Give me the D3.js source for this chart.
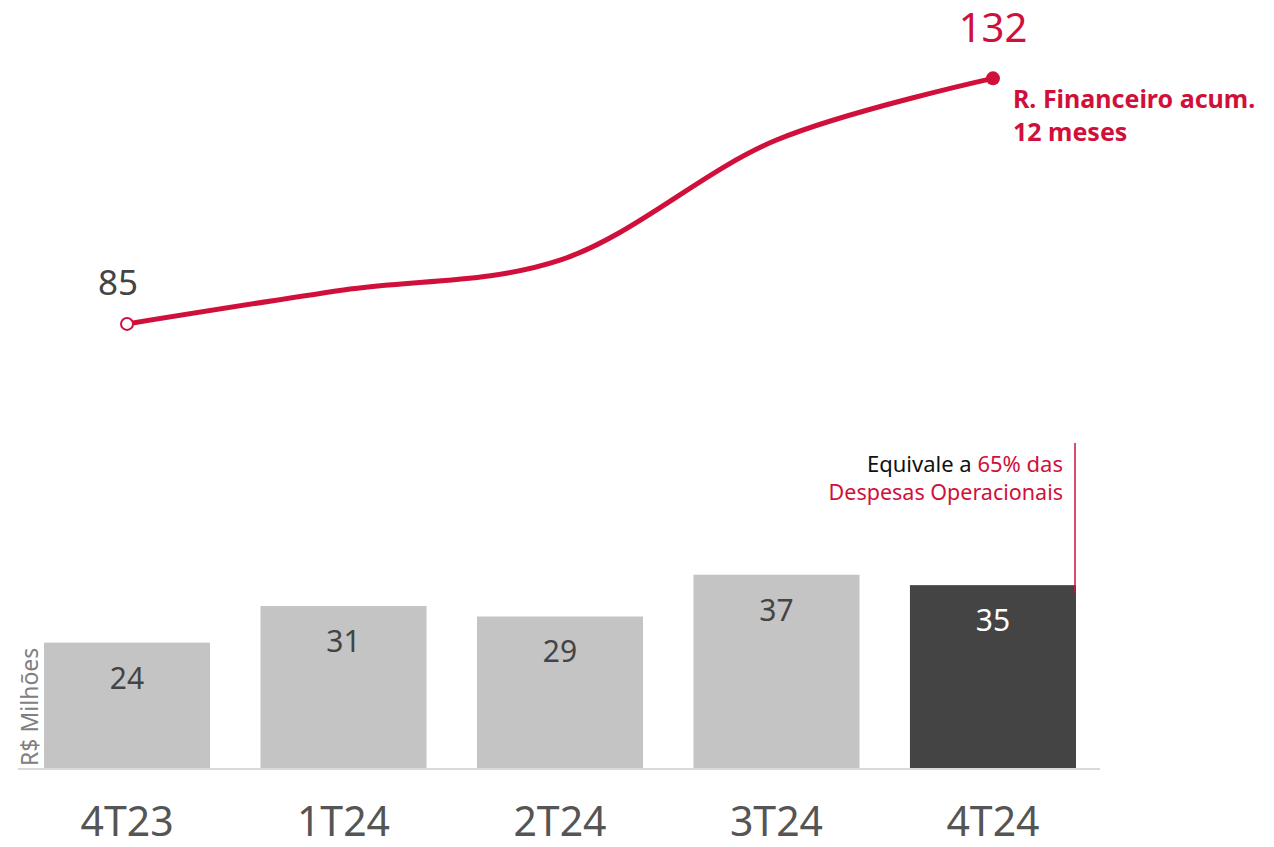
<!DOCTYPE html>
<html>
<head>
<meta charset="utf-8">
<script src="https://cdn.jsdelivr.net/npm/d3@7"></script>
<style>
  body { margin: 0; background: #fff; }
  text { font-family: "Noto Sans", "Open Sans", sans-serif; }
</style>
</head>
<body>
<div id="chart"></div>
<script>
//
// data
//
var quarters = ['4T23', '1T24', '2T24', '3T24', '4T24']
var quarterly = [24, 31, 29, 37, 35]
var accum12m = [85, 91.5, 97.2, 120.2, 132]
var lineName = ['R. Financeiro acum.', '12 meses']
var unitLabel = 'R$ Milhões'

var red = '#d0103a'
var W = 1274, H = 847

var svg = d3.select('#chart').append('svg')
  .attr('width', W)
  .attr('height', H)

// shared scales
var x = d3.scaleBand()
  .domain(quarters)
  .range([44, 1076])
  .paddingInner(0.233)
  .paddingOuter(0)

var y = d3.scaleLinear()
  .domain([0, 147])
  .range([768, 0])

var cx = function(i) { return x(quarters[i]) + x.bandwidth() / 2 }

// bars
svg.selectAll('rect.bar')
  .data(quarterly)
  .enter().append('rect')
  .attr('class', 'bar')
  .attr('x', function(d, i) { return x(quarters[i]) })
  .attr('y', function(d) { return y(d) })
  .attr('width', x.bandwidth())
  .attr('height', function(d) { return y(0) - y(d) })
  .attr('fill', function(d, i) { return i == quarterly.length - 1 ? '#444444' : '#c4c4c4' })

svg.selectAll('text.val')
  .data(quarterly)
  .enter().append('text')
  .attr('x', function(d, i) { return cx(i) })
  .attr('y', function(d) { return y(d) + 46 })
  .attr('text-anchor', 'middle')
  .style('font-size', '30px')
  .attr('fill', function(d, i) { return i == quarterly.length - 1 ? '#ffffff' : '#444444' })
  .text(function(d) { return d })

// baseline
svg.append('line')
  .attr('x1', 18).attr('x2', 1100)
  .attr('y1', y(0) + 1).attr('y2', y(0) + 1)
  .attr('stroke', '#d9d9d9')
  .attr('stroke-width', 2)

// category labels
svg.selectAll('text.cat')
  .data(quarters)
  .enter().append('text')
  .attr('x', function(d, i) { return cx(i) })
  .attr('y', 836)
  .attr('text-anchor', 'middle')
  .style('font-size', '41px')
  .attr('fill', '#555555')
  .text(function(d) { return d })

// unit label
svg.append('text')
  .attr('transform', 'translate(38,766) rotate(-90)')
  .style('font-size', '23px')
  .attr('fill', '#808080')
  .text(unitLabel)

// line
var lineFunc = d3.line()
  .x(function(d, i) { return cx(i) })
  .y(function(d) { return y(d) })
  .curve(d3.curveCatmullRom.alpha(0.5))

svg.append('path')
  .attr('d', lineFunc(accum12m))
  .attr('fill', 'none')
  .attr('stroke', red)
  .attr('stroke-width', 5)

var last = accum12m.length - 1

svg.append('circle')
  .attr('cx', cx(0)).attr('cy', y(accum12m[0]))
  .attr('r', 6)
  .attr('fill', '#fff')
  .attr('stroke', red)
  .attr('stroke-width', 2)

svg.append('circle')
  .attr('cx', cx(last)).attr('cy', y(accum12m[last]))
  .attr('r', 7)
  .attr('fill', red)

svg.append('text')
  .attr('x', cx(0) - 9).attr('y', y(accum12m[0]) - 29)
  .attr('text-anchor', 'middle')
  .style('font-size', '35px')
  .attr('fill', '#444444')
  .text(accum12m[0])

svg.append('text')
  .attr('x', cx(last)).attr('y', y(accum12m[last]) - 36)
  .attr('text-anchor', 'middle')
  .style('font-size', '40px')
  .attr('fill', red)
  .text(accum12m[last])

svg.selectAll('text.lname')
  .data(lineName)
  .enter().append('text')
  .attr('x', cx(last) + 20)
  .attr('y', function(d, i) { return 108 + i * 33 })
  .style('font-size', '25px')
  .style('font-weight', 'bold')
  .attr('fill', red)
  .text(function(d) { return d })

// annotation
svg.append('line')
  .attr('x1', 1075).attr('x2', 1075)
  .attr('y1', 443).attr('y2', 593)
  .attr('stroke', red)
  .attr('stroke-width', 1.5)

var note = svg.append('text')
  .attr('x', 1063).attr('y', 472)
  .attr('text-anchor', 'end')
  .style('font-size', '22px')
note.append('tspan').attr('fill', '#111').text('Equivale a ')
note.append('tspan').attr('fill', red).text('65% das')

svg.append('text')
  .attr('x', 1063).attr('y', 500)
  .attr('text-anchor', 'end')
  .style('font-size', '21.5px')
  .attr('fill', red)
  .text('Despesas Operacionais')
</script>
</body>
</html>
